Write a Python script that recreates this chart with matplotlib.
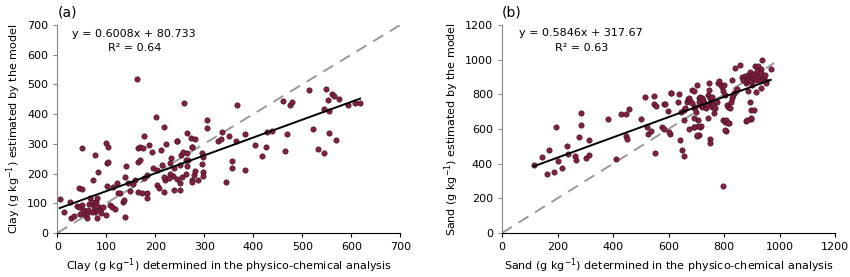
import numpy as np
import matplotlib.pyplot as plt

# Clay: determined (x) vs estimated (y), g/kg
clay_obs = [5, 14, 25, 29, 34, 50, 45, 50, 41, 45, 50, 53, 46, 57, 60, 61, 63, 65, 67, 70,
            72, 77, 80, 82, 85, 87, 82, 89, 84, 77, 70, 74, 79, 94, 99, 104, 101, 102, 104, 99,
            108, 111, 118, 114, 121, 124, 129, 140, 135, 136, 139, 139, 145, 148,
            155, 159, 165, 169, 174, 165, 169, 177, 176, 183, 165, 172, 183, 184, 188, 193,
            196, 203, 203, 208, 217, 219, 218, 213, 163, 202, 217, 212, 221, 244, 264, 273,
            282, 275, 259, 232, 230, 238, 250, 264, 263, 267, 252, 257, 265, 274, 245, 237,
            230, 245, 254, 263, 250, 251, 238, 227, 279, 281, 274, 275, 288, 296, 297, 296,
            297, 298,
            305, 305, 327, 336, 334, 350, 364, 383, 367, 404, 426, 418, 429, 439, 461, 475,
            480, 468, 465, 514, 548, 560, 565, 574, 552, 544, 554, 594, 607, 618, 522, 554,
            569, 532, 544, 356, 356, 383, 344]
clay_est = [114, 69, 105, 52, 57, 285, 150, 147, 90, 86, 94, 77, 65, 60, 52, 68, 77, 99, 116, 105,
            178, 263, 105, 116, 88, 77, 52, 68, 204, 71, 71, 86, 90, 88, 302, 289, 158, 234, 240, 60,
            94, 88, 82, 156, 167, 136, 133, 225, 105, 110, 189, 54, 167, 141,
            165, 178, 285, 289, 285, 240, 246, 325, 184, 195, 139, 133, 133, 116, 296, 274,
            218, 212, 161, 150, 139, 178, 189, 229, 519, 391, 357, 280, 299, 309, 336, 319,
            316, 289, 436, 252, 235, 220, 229, 226, 246, 244, 263, 271, 269, 289, 308, 192,
            198, 181, 187, 198, 145, 167, 144, 184, 196, 209, 179, 173, 177, 269, 255, 233,
            205, 190,
            379, 353, 308, 340, 317, 327, 311, 334, 430, 297, 288, 259, 340, 342, 444, 432,
            440, 334, 277, 480, 486, 469, 460, 451, 446, 418, 409, 430, 437, 437, 350, 336,
            313, 282, 268, 241, 218, 211, 173]
clay_fit = (0.6008, 80.733)
clay_r2 = 0.64

# Sand: determined (x) vs estimated (y), g/kg
sand_obs = [115, 143, 168, 162, 186, 201, 215, 195, 233, 236, 264, 266, 276, 285, 285, 304, 314,
            315, 383, 412, 427, 448, 457, 445, 451, 501, 523, 526, 514, 546, 556, 585, 608, 639,
            597, 535, 546, 576, 582, 586, 606, 610, 633, 642, 645, 550, 648, 654, 657, 672, 693,
            713, 701, 705, 749, 749, 741, 797, 797, 803, 818, 805, 877, 896,
            654, 660, 666, 669, 674, 678, 684, 686, 690, 693, 696, 700, 703, 708, 710, 714, 717,
            719, 722, 725, 729, 734, 737, 743, 746, 747, 749, 753, 755, 758, 761, 765, 767, 773,
            779, 781, 789, 793, 797, 801, 803, 809, 815, 821, 824, 827, 829, 833, 836, 841, 845,
            839, 857, 863, 869, 875, 877, 881, 884, 886, 889, 892, 896, 898, 901, 904, 908, 910,
            913, 916, 920, 922, 925, 928, 932, 934, 937, 940, 944, 946, 949, 952, 968, 886, 892,
            898, 906, 881, 898, 914, 934, 717, 693, 705, 710, 805, 803, 815, 691, 702, 600]
sand_est = [394, 441, 480, 338, 349, 413, 373, 610, 501, 456, 443, 421, 553, 690, 623, 435, 452,
            538, 660, 427, 686, 684, 715, 557, 544, 660, 612, 573, 787, 742, 735, 742, 807, 803,
            701, 587, 791, 612, 602, 744, 573, 810, 758, 534, 700, 461, 480, 443, 651, 597, 612,
            612, 560, 651, 544, 519, 661, 268, 651, 638, 632, 591, 645, 655,
            709, 723, 758, 774, 781, 762, 748, 826, 816, 719, 729, 700, 855, 777, 758, 787, 739,
            777, 729, 768, 748, 719, 739, 797, 865, 826, 777, 758, 729, 787, 739, 690, 719, 758,
            865, 875, 851, 840, 816, 855, 797, 739, 729, 719, 758, 777, 884, 797, 807, 820, 832,
            952, 966, 898, 884, 904, 865, 894, 875, 913, 884, 929, 875, 904, 855, 917, 894, 962,
            884, 910, 933, 962, 898, 875, 943, 923, 995, 894, 884, 913, 875, 865, 947, 816, 758,
            709, 709, 651, 661, 812, 836, 616, 661, 616, 567, 651, 593, 632, 612, 564, 583]
sand_fit = (0.5846, 317.67)
sand_r2 = 0.63

dot_color = "#80213f"

fig = plt.figure(figsize=(8.5, 2.77), dpi=100)
ax1 = fig.add_axes([0.0674, 0.159, 0.4035, 0.751])
ax2 = fig.add_axes([0.5906, 0.159, 0.392, 0.751])


def panel(ax, obs, est, fit, r2, lim, step, diag_end, name, tag, eq_xy):
    obs = np.array(obs)
    est = np.array(est)
    ax.plot([0, diag_end], [0, diag_end], color="#999999", lw=1.4, dashes=(6, 4), zorder=1)
    ax.scatter(obs, est, s=15, color=dot_color, edgecolors="#3a0d1c", linewidths=0.4, zorder=2)
    xs = np.array([obs.min(), obs.max()])
    ax.plot(xs, fit[0] * xs + fit[1], color="black", lw=1.4, zorder=3)
    ax.set_xlim(0, lim)
    ax.set_ylim(0, lim)
    ax.set_xticks(np.arange(0, lim + 1, step))
    ax.set_yticks(np.arange(0, lim + 1, step))
    ax.spines["top"].set_visible(False)
    ax.spines["right"].set_visible(False)
    ax.spines["left"].set_color("#888888")
    ax.tick_params(labelsize=8, length=3, width=0.8, direction="out")
    ax.tick_params(axis="y", color="#888888")
    ax.set_xlabel(name + " (g kg$^{-1}$) determined in the physico-chemical analysis", fontsize=8, labelpad=3)
    ax.set_ylabel(name + " (g kg$^{-1}$) estimated by the model", fontsize=8, labelpad=3)
    ax.text(eq_xy[0], eq_xy[1], "y = %sx + %s" % (fit[0], fit[1]), fontsize=8, ha="center", va="center")
    ax.text(eq_xy[0], eq_xy[2], "R² = %s" % r2, fontsize=8, ha="center", va="center")
    ax.text(0.0, 1.06, tag, transform=ax.transAxes, fontsize=10, ha="left", va="center")


panel(ax1, clay_obs, clay_est, clay_fit, clay_r2, 700, 100, 700, "Clay", "(a)", (157, 671, 624))
panel(ax2, sand_obs, sand_est, sand_fit, sand_r2, 1200, 200, 980, "Sand", "(b)", (285, 1152, 1069))

fig.savefig("out.png", dpi=100)
